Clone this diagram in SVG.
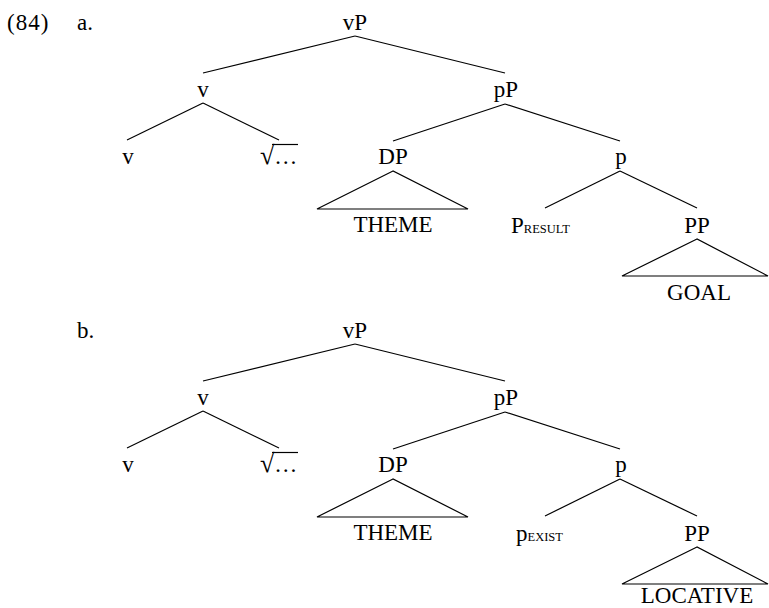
<svg xmlns="http://www.w3.org/2000/svg" width="769" height="608" viewBox="0 0 769 608">
<style>
text{font-family:"Liberation Serif","Times New Roman",serif;font-size:23px;fill:#000}
.m{text-anchor:middle}
.sc{font-size:12.5px}
.rt{font-size:26px}
line,polygon{stroke:#000;stroke-width:1.2;fill:none}
</style>
<rect width="769" height="608" fill="#fff"/>
<text id="ex" x="7" y="30" style="letter-spacing:1px">(84)</text>
<text id="la" x="77" y="30">a.</text>
<text id="lb" x="77" y="338">b.</text>
<g id="treeA">
<g id="a-vP"><text class="m" x="355" y="30">vP</text></g>
<g id="a-v"><text class="m" x="203" y="97">v</text></g>
<g id="a-pP"><text class="m" x="506" y="97">pP</text></g>
<g id="a-v2"><text class="m" x="128" y="164">v</text></g>
<g id="a-root"><text x="260" y="164"><tspan class="rt">√</tspan>…</text><line x1="272" y1="144.5" x2="298" y2="144.5"/></g>
<g id="a-DP"><text class="m" x="393" y="164">DP</text></g>
<g id="a-p"><text class="m" x="621" y="164">p</text></g>
<g id="a-theme"><polygon points="393,171 317,209 468,209"/><text class="m" x="393" y="232">THEME</text></g>
<g id="a-pres"><text x="511" y="233">P<tspan class="sc">RESULT</tspan></text></g>
<g id="a-PP"><text class="m" x="697" y="233">PP</text></g>
<g id="a-goal"><polygon points="697,239 622,276 768,276"/><text class="m" x="699" y="300">GOAL</text></g>
</g>
<g id="treeB">
<g id="b-vP"><text class="m" x="355" y="338">vP</text></g>
<g id="b-v"><text class="m" x="203" y="405">v</text></g>
<g id="b-pP"><text class="m" x="506" y="405">pP</text></g>
<g id="b-v2"><text class="m" x="128" y="472">v</text></g>
<g id="b-root"><text x="260" y="472"><tspan class="rt">√</tspan>…</text><line x1="272" y1="452.5" x2="298" y2="452.5"/></g>
<g id="b-DP"><text class="m" x="393" y="472">DP</text></g>
<g id="b-p"><text class="m" x="621" y="472">p</text></g>
<g id="b-theme"><polygon points="393,479 317,517 468,517"/><text class="m" x="393" y="540">THEME</text></g>
<g id="b-pex"><text x="516" y="541">p<tspan class="sc">EXIST</tspan></text></g>
<g id="b-PP"><text class="m" x="697" y="541">PP</text></g>
<g id="b-loc"><polygon points="697,547 622,584 768,584"/><text class="m" x="697" y="603">LOCATIVE</text></g>
</g>
<g id="connectors">
<line x1="355" y1="36" x2="203" y2="73"/><line x1="355" y1="36" x2="505" y2="73"/>
<line x1="203" y1="103" x2="127" y2="140"/><line x1="203" y1="103" x2="279" y2="140"/>
<line x1="505" y1="104" x2="393" y2="141"/><line x1="505" y1="104" x2="620" y2="141"/>
<line x1="620" y1="171" x2="545" y2="208"/><line x1="620" y1="171" x2="697" y2="208"/>
<line x1="355" y1="344" x2="203" y2="381"/><line x1="355" y1="344" x2="505" y2="381"/>
<line x1="203" y1="411" x2="127" y2="448"/><line x1="203" y1="411" x2="279" y2="448"/>
<line x1="505" y1="412" x2="393" y2="449"/><line x1="505" y1="412" x2="620" y2="449"/>
<line x1="620" y1="479" x2="545" y2="516"/><line x1="620" y1="479" x2="697" y2="516"/>
</g>
</svg>
